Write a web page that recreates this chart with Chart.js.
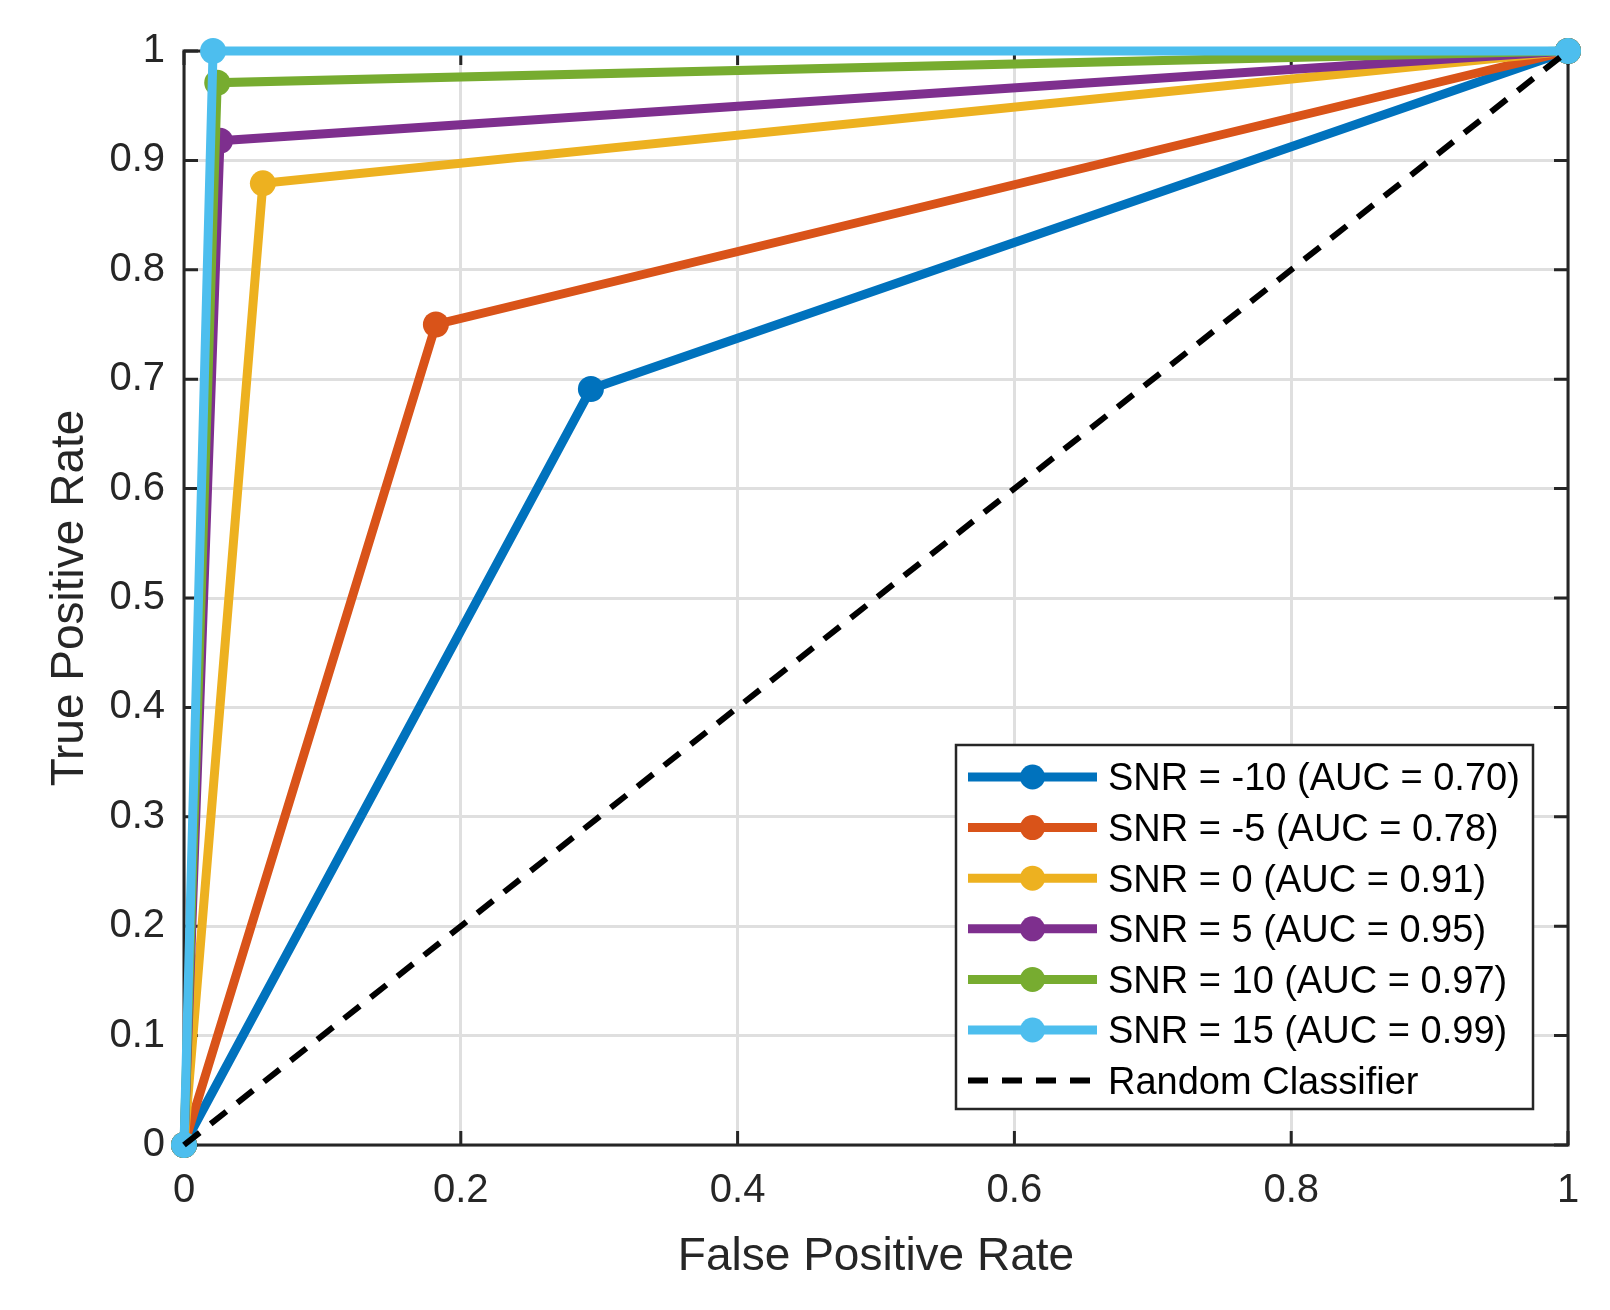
<!DOCTYPE html>
<html>
<head>
<meta charset="utf-8">
<script src="https://cdn.jsdelivr.net/npm/chart.js@4.4.1/dist/chart.umd.min.js"></script>
<style>
  body { margin: 0; background: #fff; }
  canvas { display: block; }
</style>
</head>
<body>
<canvas id="rocChart" width="1610" height="1310"></canvas>
<script>
// ROC curves, one per SNR level: points are (0,0) -> (fpr, tpr) -> (1,1)
const snrLevels = [-10, -5, 0, 5, 10, 15];
const aucValues = [0.70, 0.78, 0.91, 0.95, 0.97, 0.99];
const fprPoints = [
  [0, 0.294, 1],
  [0, 0.182, 1],
  [0, 0.057, 1],
  [0, 0.026, 1],
  [0, 0.024, 1],
  [0, 0.021, 1]
];
const tprPoints = [
  [0, 0.691, 1],
  [0, 0.750, 1],
  [0, 0.879, 1],
  [0, 0.918, 1],
  [0, 0.971, 1],
  [0, 1.000, 1]
];
const randomFpr = [0, 1];
const randomTpr = [0, 1];

const colors = ['#0072BD', '#D95319', '#EDB120', '#7E2F8E', '#77AC30', '#4DBEEE'];
const axisColor = '#262626';
const fontFamily = '"Liberation Sans", Arial, Helvetica, sans-serif';

const datasets = snrLevels.map((snr, i) => ({
  label: `SNR = ${snr} (AUC = ${aucValues[i].toFixed(2)})`,
  data: fprPoints[i].map((x, j) => ({ x: x, y: tprPoints[i][j] })),
  showLine: true,
  borderColor: colors[i],
  backgroundColor: colors[i],
  borderWidth: 9,
  pointRadius: 13,
  pointHoverRadius: 13,
  pointBorderWidth: 0,
  clip: false,
  order: snrLevels.length - i
}));

datasets.push({
  label: 'Random Classifier',
  data: randomFpr.map((x, j) => ({ x: x, y: randomTpr[j] })),
  showLine: true,
  borderColor: '#000000',
  backgroundColor: '#000000',
  borderWidth: 6,
  borderDash: [20, 14],
  pointRadius: 0,
  pointHoverRadius: 0,
  clip: false,
  order: 0
});

const fmt = v => Number(v.toFixed(1)).toString();

// box around the axes with inward tick marks (drawn under the data, like MATLAB)
const axesBox = {
  id: 'axesBox',
  beforeDatasetsDraw(chart) {
    const { ctx, chartArea: a, scales } = chart;
    const len = 14;
    ctx.save();
    ctx.strokeStyle = axisColor;
    ctx.lineWidth = 3;
    ctx.strokeRect(a.left, a.top, a.right - a.left, a.bottom - a.top);
    ctx.beginPath();
    scales.x.ticks.forEach(t => {
      const px = scales.x.getPixelForValue(t.value);
      ctx.moveTo(px, a.bottom); ctx.lineTo(px, a.bottom - len);
      ctx.moveTo(px, a.top); ctx.lineTo(px, a.top + len);
    });
    scales.y.ticks.forEach(t => {
      const py = scales.y.getPixelForValue(t.value);
      ctx.moveTo(a.left, py); ctx.lineTo(a.left + len, py);
      ctx.moveTo(a.right, py); ctx.lineTo(a.right - len, py);
    });
    ctx.stroke();
    ctx.restore();
  }
};

// legend box in the lower right corner of the axes
const boxLegend = {
  id: 'boxLegend',
  afterDraw(chart) {
    const { ctx, chartArea: a } = chart;
    const sets = chart.data.datasets;
    const right = a.right - 35, bottom = a.bottom - 36;
    const width = 577, rowH = 50.6;
    const height = 364;
    const left = right - width, top = bottom - height;
    ctx.save();
    ctx.fillStyle = '#ffffff';
    ctx.fillRect(left, top, width, height);
    ctx.strokeStyle = axisColor;
    ctx.lineWidth = 2.5;
    ctx.strokeRect(left, top, width, height);
    ctx.font = '38px ' + fontFamily;
    ctx.textBaseline = 'middle';
    ctx.textAlign = 'left';
    sets.forEach((ds, i) => {
      const y = top + 32 + i * rowH;
      const x0 = left + 12, x1 = left + 141;
      ctx.beginPath();
      ctx.setLineDash(ds.borderDash || []);
      ctx.strokeStyle = ds.borderColor;
      ctx.lineWidth = ds.borderWidth;
      ctx.moveTo(x0, y); ctx.lineTo(x1, y);
      ctx.stroke();
      ctx.setLineDash([]);
      if (ds.pointRadius > 0) {
        ctx.beginPath();
        ctx.fillStyle = ds.backgroundColor;
        ctx.arc((x0 + x1) / 2, y, 12.5, 0, Math.PI * 2);
        ctx.fill();
      }
      ctx.fillStyle = '#000000';
      ctx.fillText(ds.label, left + 152, y + 3);
    });
    ctx.restore();
  }
};

const ctx = document.getElementById('rocChart').getContext('2d');

const rocChart = new Chart(ctx, {
  type: 'scatter',
  data: { datasets: datasets },
  options: {
    responsive: false,
    devicePixelRatio: 1,
    animation: false,
    events: [],
    layout: { padding: { left: 0, top: 51, right: 42, bottom: 0 } },
    plugins: {
      legend: { display: false },
      tooltip: { enabled: false }
    },
    scales: {
      x: {
        type: 'linear',
        min: 0,
        max: 1,
        afterFit: s => { s.height = 165; },
        grid: { color: '#dfdfdf', lineWidth: 3, drawTicks: false },
        border: { display: false },
        ticks: {
          stepSize: 0.2,
          padding: 22,
          color: axisColor,
          font: { family: fontFamily, size: 40 },
          maxRotation: 0,
          callback: fmt
        },
        title: {
          display: true,
          text: 'False Positive Rate',
          color: axisColor,
          font: { family: fontFamily, size: 46 },
          padding: { top: 0, bottom: 25 }
        }
      },
      y: {
        type: 'linear',
        min: 0,
        max: 1,
        afterFit: s => { s.width = 184; },
        grid: { color: '#dfdfdf', lineWidth: 3, drawTicks: false },
        border: { display: false },
        ticks: {
          stepSize: 0.1,
          padding: 19,
          color: axisColor,
          font: { family: fontFamily, size: 40 },
          callback: fmt
        },
        title: {
          display: true,
          text: 'True Positive Rate',
          color: axisColor,
          font: { family: fontFamily, size: 46 },
          padding: { top: 43, bottom: 0 }
        }
      }
    }
  },
  plugins: [axesBox, boxLegend]
});
</script>
</body>
</html>
